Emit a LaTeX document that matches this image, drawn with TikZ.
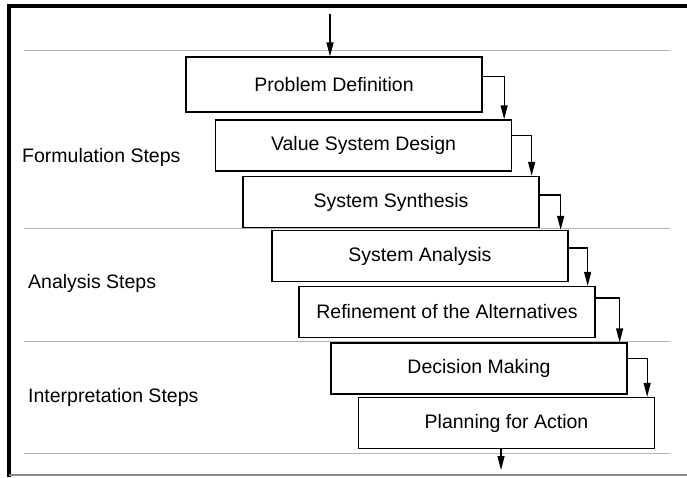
\documentclass[tikz,border=0pt]{standalone}
\usepackage{fontspec}
\setmainfont{Liberation Sans}
\definecolor{rlGray}{HTML}{B4B4B4}
\definecolor{rlFrame}{HTML}{8C8C8C}
\usetikzlibrary{calc,positioning,arrows.meta}
\tikzset{
  stepbox/.style={draw=black, line width=1.3pt, fill=white, minimum width=296pt,
    minimum height=51pt, inner sep=0pt, font=\fontsize{19.5}{22}\selectfont},
  phaselabel/.style={anchor=west, inner sep=0pt, font=\fontsize{19.5}{22}\selectfont},
  flow/.style={line width=1.3pt, -{Triangle[length=14pt,width=7pt]}}
}

\begin{document}
\begin{tikzpicture}[x=1pt, y=-1pt]
  \useasboundingbox (0,0) rectangle (687,477);
  % frame of the page
  \draw[line width=3.5pt] (9,477) -- (9,6) -- (687,6);
  \draw[rlFrame, line width=2pt] (9,475) -- (687,475);
  % phase separators
  \draw[rlGray, line width=1pt] (24,50) -- (670,50);
  \draw[rlGray, line width=1pt] (24,228) -- (670,228);
  \draw[rlGray, line width=1pt] (24,341) -- (670,341);
  \draw[rlGray, line width=1pt] (24,453) -- (670,453);
  % phase names
  \node[phaselabel] (form) at (22,157) {Formulation Steps};
  \node[phaselabel] (anal) at (28,283) {Analysis Steps};
  \node[phaselabel] (interp) at (28,397) {Interpretation Steps};
  % the seven steps
  \node[stepbox, minimum height=55pt] (pd) at (334,84.5) {Problem Definition};
  \node[stepbox] (vsd) at (363.5,145.5) {Value System Design};
  \node[stepbox] (ss) at (391,202) {System Synthesis};
  \node[stepbox] (sa) at (420,256) {System Analysis};
  \node[stepbox] (ra) at (447,312) {Refinement of the Alternatives};
  \node[stepbox] (dm) at (479,368.5) {Decision Making};
  \node[stepbox] (pa) at (506.5,423) {Planning for Action};
  % flow into and out of the chain
  \coordinate (entry) at (330,14);
  \coordinate (exit) at (501,470);
  \draw[flow] (entry) -- (entry |- pd.north);
  \draw[flow] (pa.south -| exit) -- (exit);
  % step to step
  \draw[flow] ([yshift=8pt]pd.east) -| ([xshift=-8pt]vsd.north east);
  \draw[flow] ([yshift=10pt]vsd.east) -| ([xshift=-8pt]ss.north east);
  \draw[flow] ([yshift=7pt]ss.east) -| ([xshift=-8pt]sa.north east);
  \draw[flow] ([yshift=8pt]sa.east) -| ([xshift=-8pt]ra.north east);
  \draw[flow] ([yshift=14pt]ra.east) -| ([xshift=-8pt]dm.north east);
  \draw[flow] ([yshift=10pt]dm.east) -| ([xshift=-8pt]pa.north east);
\end{tikzpicture}
\end{document}
